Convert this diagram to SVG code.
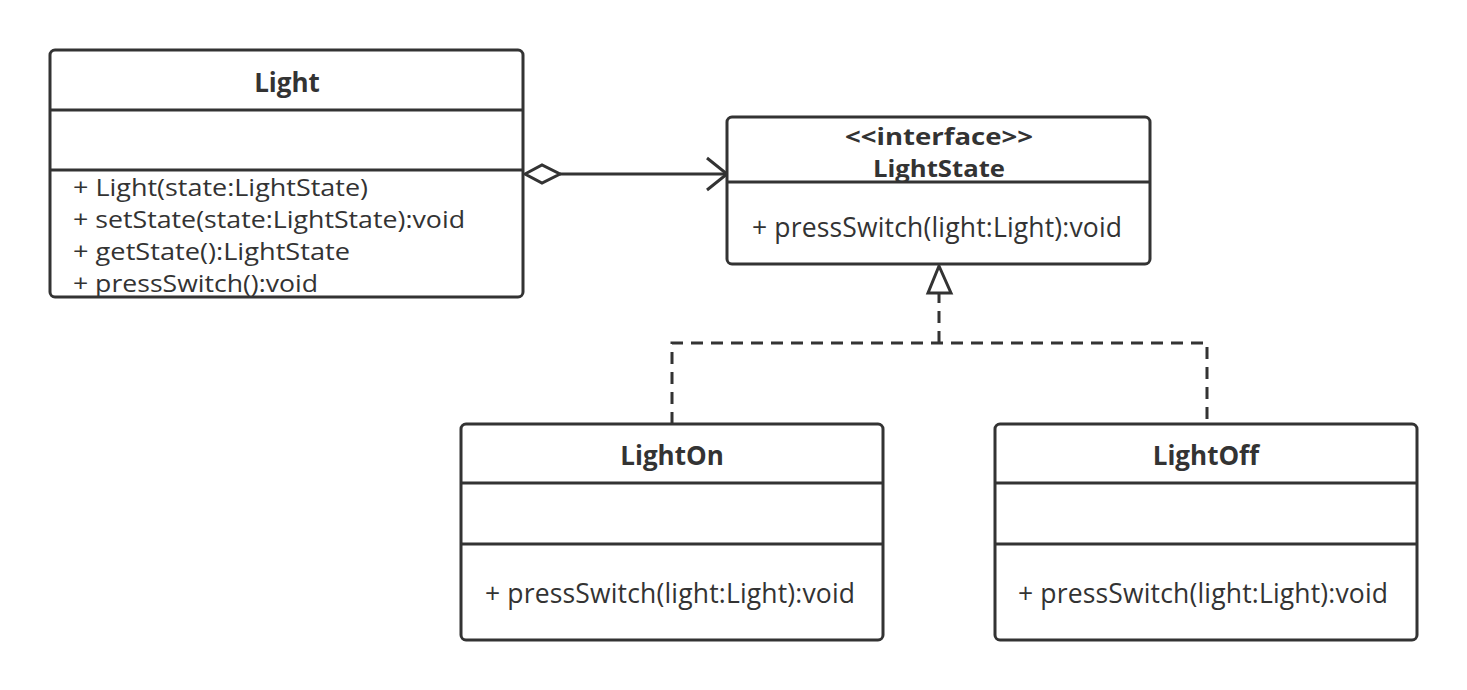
<svg xmlns="http://www.w3.org/2000/svg" width="1467" height="690" viewBox="0 0 1467 690">
<style>
.box{fill:#fff;stroke:#333;stroke-width:3}
.div{stroke:#333;stroke-width:3;fill:none}
.t{font-family:"Open Sans","Noto Sans",sans-serif;font-size:26.5px;fill:#333}
.s{font-family:"Open Sans","Noto Sans",sans-serif;font-size:23px;fill:#333}
.b{font-family:"Open Sans","Noto Sans",sans-serif;font-size:26px;font-weight:bold;fill:#333}
.bs{font-family:"Open Sans","Noto Sans",sans-serif;font-size:23px;font-weight:bold;fill:#333}
.c{text-anchor:middle}
.edge{stroke:#333;stroke-width:3;fill:none}
.dash{stroke:#333;stroke-width:3;fill:none;stroke-dasharray:12,8}
</style>
<rect width="1467" height="690" fill="#fff"/>
<g id="connectors">
<line class="edge" x1="560" y1="174" x2="726" y2="174"/>
<path class="edge" d="M525,174 L542,165 L560,174 L542,183 Z" fill="#fff"/>
<path class="edge" d="M707,158 L727,174 L707,190"/>
<path class="dash" d="M672,424 V343 H1207 V424"/>
<path class="dash" d="M939,343 V294"/>
<path class="edge" d="M939,266 L928,293 L951,293 Z" fill="#fff"/>
</g>
<g id="Light">
<rect class="box" x="50" y="50" width="473" height="247" rx="5"/>
<line class="div" x1="50" y1="110" x2="523" y2="110"/>
<line class="div" x1="50" y1="170" x2="523" y2="170"/>
<text class="b c" x="287" y="92">Light</text>
<text class="s" x="73" y="196" textLength="295" lengthAdjust="spacingAndGlyphs">+ Light(state:LightState)</text>
<text class="s" x="73" y="228" textLength="392" lengthAdjust="spacingAndGlyphs">+ setState(state:LightState):void</text>
<text class="s" x="73" y="260" textLength="277" lengthAdjust="spacingAndGlyphs">+ getState():LightState</text>
<text class="s" x="73" y="292" textLength="245" lengthAdjust="spacingAndGlyphs">+ pressSwitch():void</text>
</g>
<g id="LightState">
<rect class="box" x="727" y="117" width="423" height="147" rx="5"/>
<line class="div" x1="727" y1="182" x2="1150" y2="182"/>
<text class="bs c" x="939" y="145" textLength="188" lengthAdjust="spacingAndGlyphs">&lt;&lt;interface&gt;&gt;</text>
<text class="bs c" x="939" y="177" textLength="132" lengthAdjust="spacingAndGlyphs">LightState</text>
<text class="t c" x="937" y="237" textLength="370">+ pressSwitch(light:Light):void</text>
</g>
<g id="LightOn">
<rect class="box" x="461" y="424" width="422" height="216" rx="5"/>
<line class="div" x1="461" y1="483" x2="883" y2="483"/>
<line class="div" x1="461" y1="544" x2="883" y2="544"/>
<text class="b c" x="672" y="465">LightOn</text>
<text class="t c" x="670" y="603" textLength="370">+ pressSwitch(light:Light):void</text>
</g>
<g id="LightOff">
<rect class="box" x="995" y="424" width="422" height="216" rx="5"/>
<line class="div" x1="995" y1="483" x2="1417" y2="483"/>
<line class="div" x1="995" y1="544" x2="1417" y2="544"/>
<text class="b c" x="1206" y="465">LightOff</text>
<text class="t c" x="1203" y="603" textLength="370">+ pressSwitch(light:Light):void</text>
</g>
</svg>
